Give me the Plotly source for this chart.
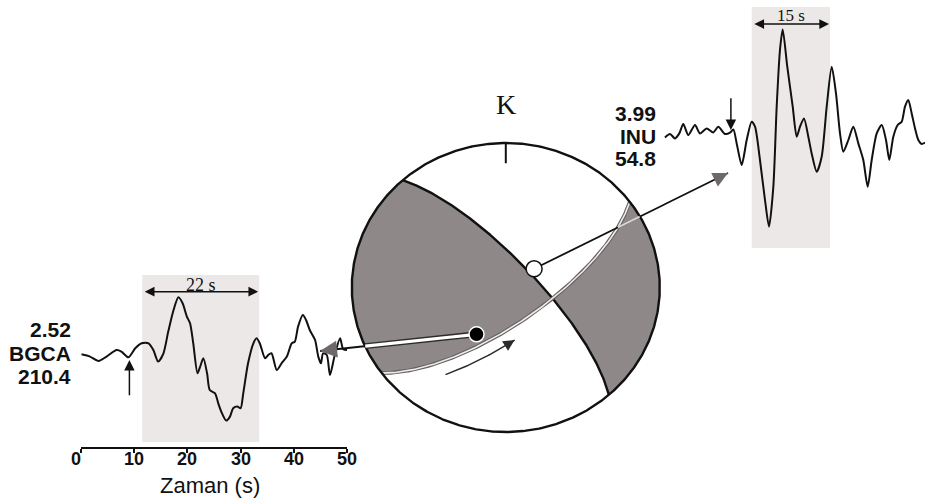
import numpy as np
import plotly.graph_objects as go

# ---------------- seismogram records ----------------
# BGCA record: time (s) and ground-motion amplitude (arbitrary units)
bgca_t = [0.1, 1.7, 3.3, 4.8, 6.7, 7.6, 8.9, 10.2, 11.4, 12.7,
          13.6, 14.5, 15.5, 16.4, 17.4, 18.3, 19.1, 19.9, 20.5, 21.1,
          21.9, 22.4, 23.0, 23.7, 24.2, 25.2, 25.8, 26.5, 27.3, 28.0,
          28.6, 29.4, 30.0, 30.5, 31.4, 32.4, 33.0, 33.6, 34.6, 35.2,
          35.8, 36.8, 37.7, 38.7, 39.6, 40.2, 40.8, 41.7, 42.3, 43.0,
          44.0, 44.6, 45.1, 45.5, 46.2, 46.8, 47.7, 48.7, 49.3, 50.2]
bgca_amp = [0, -2.3, -6.7, -2.3, 4.3, 2.7, -3, 6, 11, 11,
            4.3, -7.3, 1, 22.7, 44.3, 57, 51, 37.7, 31, 11,
            -19, -12.3, -4, -19, -35.7, -39, -49, -59, -66.3, -62.3,
            -54, -52.3, -54, -39, -9, 11, 16, 11, -4, -0.7,
            1, -15.7, -9, -2.3, 11, 12.7, 27.7, 39.3, 34.3, 24.3,
            14.3, -2.3, -9, 1, -0.7, -20.7, -0.7, 16, 5, 4.3]

# INU record
inu_t = [-0.33, 0.64, 1.59, 2.42, 3.18, 4.14, 5.42, 6.38, 7.66, 8.93,
         9.89, 11.17, 12.13, 12.77, 13.41, 14.37, 15.33, 16.28, 16.92, 17.87,
         18.83, 19.60, 20.43, 21.07, 21.7, 22.22, 23.1, 24.14, 24.9, 25.54,
         26.3, 27.13, 27.77, 28.74, 29.69, 30.65, 31.61, 32.43, 33.2, 33.84,
         34.8, 35.75, 36.71, 37.66, 38.5, 39.27, 40.23, 41.19, 42.01, 42.64,
         43.41, 44.25, 45.02, 45.65, 46.28, 46.93, 47.57, 48.2, 48.85, 49.49]
inu_amp = [-0.7, 2.7, -1.7, 3.3, 12.7, 1.7, 11.7, 3.3, 8.3, 4.3,
           10, 2.7, 4, 7.3, -6.7, -28.3, -3.3, 15, 10, -23.3,
           -63.3, -90, -50, 30, 86.7, 107.3, 70, 30, 0, 10,
           18.3, 0, -16.7, -35, -20, 30, 70, 43.3, 3.3, -15,
           -3.3, 10, -6.7, -23.3, -50, -23.3, 3.3, 11.7, -3.3, -23.3,
           0, 11.7, 15, 30, 36.7, 23.3, 8.3, -3.3, -7.3, -6]

# station metadata
station_names = ["BGCA", "INU"]
station_values = ["2.52", "3.99"]
station_azimuth = [210.4, 54.8]      # degrees
station_takeoff = [30.8, 18.3]       # degrees from vertical
station_onset = [9.1, 12.3]          # P onset pick (s)
window_start = [11.5, 16.3]          # modelled window start (s)
window_length = [22, 15]             # modelled window length (s)

time_ticks = [0, 10, 20, 30, 40, 50]

# focal mechanism (fault plane)
STRIKE, DIP, RAKE = 318.0, 75.0, 159.0

# ---------------- styling ----------------
W, H = 925, 499
INK = "#111111"
SHADE = "#8e8889"
WINDOW = "#ece8e8"
SANS = "Liberation Sans"
SERIF = "Liberation Serif"

# pixel frame of the focal sphere
BALL_CX, BALL_CY, BALL_RX, BALL_RY = 505.8, 287.5, 154.0, 144.5


def fault_vectors(strike, dip, rake):
    phi, delta, lam = np.radians([strike, dip, rake])
    n = np.array([-np.sin(delta) * np.sin(phi),
                  np.sin(delta) * np.cos(phi),
                  -np.cos(delta)])
    d = np.array([np.cos(lam) * np.cos(phi) + np.cos(delta) * np.sin(lam) * np.sin(phi),
                  np.cos(lam) * np.sin(phi) - np.cos(delta) * np.sin(lam) * np.cos(phi),
                  -np.sin(lam) * np.sin(delta)])
    return n, d


def project(v):
    """Lower-hemisphere equal-area projection of (N, E, Down) vectors."""
    v = np.atleast_2d(v).astype(float)
    v = v / np.linalg.norm(v, axis=1, keepdims=True)
    v[v[:, 2] < 0] *= -1
    theta = np.arccos(np.clip(v[:, 2], -1, 1))
    r = np.sqrt(2) * np.sin(theta / 2)
    az = np.arctan2(v[:, 1], v[:, 0])
    return r * np.sin(az), r * np.cos(az)


def from_ray(azimuth, takeoff):
    r = np.sqrt(2) * np.sin(np.radians(takeoff) / 2)
    a = np.radians(azimuth)
    return np.array([r * np.sin(a), r * np.cos(a)])


def great_circle(normal, k=400):
    normal = normal / np.linalg.norm(normal)
    h = np.cross(normal, [0, 0, 1.0])
    h /= np.linalg.norm(h)
    w = np.cross(normal, h)
    if w[2] < 0:
        w = -w
    a = np.linspace(0, np.pi, k)
    pts = np.outer(np.cos(a), h) + np.outer(np.sin(a), w)
    return project(pts)


n_vec, d_vec = fault_vectors(STRIKE, DIP, RAKE)


def compressional(x, y):
    x = np.asarray(x, float)
    y = np.asarray(y, float)
    r = np.hypot(x, y)
    th = 2 * np.arcsin(np.clip(r / np.sqrt(2), 0, 1))
    az = np.arctan2(x, y)
    u = np.stack([np.sin(th) * np.cos(az), np.sin(th) * np.sin(az), np.cos(th)], -1)
    amp = (u @ n_vec) * (u @ d_vec)
    return (r <= 1.0) & (amp > 0)


fig = go.Figure()

# ---------------- BGCA panel (with time axis) ----------------
fig.add_shape(type="rect", xref="x", yref="y",
              x0=window_start[0], x1=window_start[0] + window_length[0],
              y0=-87.7, y1=79.3, fillcolor=WINDOW, line_width=0, layer="below")
fig.add_trace(go.Scatter(x=bgca_t, y=bgca_amp, mode="lines",
                         line=dict(color=INK, width=2, shape="spline", smoothing=0.7),
                         xaxis="x", yaxis="y", hoverinfo="skip", showlegend=False))

# ---------------- INU panel ----------------
fig.add_shape(type="rect", xref="x2", yref="y2",
              x0=window_start[1], x1=window_start[1] + window_length[1],
              y0=-111.3, y1=129.7, fillcolor=WINDOW, line_width=0, layer="below")
fig.add_trace(go.Scatter(x=inu_t, y=inu_amp, mode="lines",
                         line=dict(color=INK, width=2, shape="spline", smoothing=0.7),
                         xaxis="x2", yaxis="y2", hoverinfo="skip", showlegend=False))

# ---------------- focal sphere ----------------
gx = np.linspace(-1, 1, 311)
gy = np.linspace(-1, 1, 291)
GX, GY = np.meshgrid(gx, gy)
mask = compressional(GX, GY)
z = [[1 if m else None for m in row] for row in mask]
fig.add_trace(go.Heatmap(x=gx, y=gy, z=z, zmin=0, zmax=1,
                         colorscale=[[0, SHADE], [1, SHADE]], showscale=False,
                         hoverinfo="skip", xaxis="x3", yaxis="y3"))

p1x, p1y = great_circle(n_vec)
p2x, p2y = great_circle(d_vec)

ball = dict(xaxis="x3", yaxis="y3", hoverinfo="skip", showlegend=False, mode="lines")
fig.add_trace(go.Scatter(x=p1x, y=p1y, line=dict(color=INK, width=2.4), **ball))
fig.add_trace(go.Scatter(x=p2x, y=p2y, line=dict(color="#676161", width=3.8), **ball))
fig.add_trace(go.Scatter(x=p2x, y=p2y, line=dict(color="#eeebeb", width=1.6), **ball))

ang = np.linspace(0, 2 * np.pi, 721)
fig.add_trace(go.Scatter(x=np.sin(ang), y=np.cos(ang), line=dict(color=INK, width=2.4), **ball))

# north tick
TICK_LEN = 0.14
fig.add_trace(go.Scatter(x=[0, 0], y=[1, 1 - TICK_LEN], line=dict(color=INK, width=2), **ball))

# rays from station points to their records
bgca_pt = from_ray(station_azimuth[0], station_takeoff[0])
inu_pt = from_ray(station_azimuth[1], station_takeoff[1])
BGCA_HEAD = np.array([-1.206, -0.439])
INU_HEAD = np.array([1.443, 0.792])


def ray(p, h, k=600):
    s = np.linspace(0, 1, k)
    x = p[0] + (h[0] - p[0]) * s
    y = p[1] + (h[1] - p[1]) * s
    m = compressional(x, y)
    xs = [xx if mm else None for xx, mm in zip(x, m)]
    ys = [yy if mm else None for yy, mm in zip(y, m)]
    return x, y, xs, ys


bx, by, bxs, bys = ray(bgca_pt, BGCA_HEAD)
fig.add_trace(go.Scatter(x=bx, y=by, line=dict(color=INK, width=2), **ball))
fig.add_trace(go.Scatter(x=bxs, y=bys, line=dict(color="#2f2b2b", width=6), **ball))
fig.add_trace(go.Scatter(x=bxs, y=bys, line=dict(color="#ffffff", width=3.2), **ball))

ix, iy, ixs, iys = ray(inu_pt, INU_HEAD)
fig.add_trace(go.Scatter(x=ix, y=iy, line=dict(color=INK, width=1.8), **ball))
fig.add_trace(go.Scatter(x=ixs, y=iys, line=dict(color="#dcd8d8", width=2), **ball))

# slip sense arrow running beside the fault plane
SLIP_SHIFT = -0.1
sel = (p2x > -0.395) & (p2x < 0.06)
order = np.argsort(p2x[sel])
sx = p2x[sel][order]
sy = p2y[sel][order] + SLIP_SHIFT
fig.add_trace(go.Scatter(x=sx, y=sy, line=dict(color="#2a2a2a", width=1.5), **ball))

# station symbols
fig.add_trace(go.Scatter(x=[bgca_pt[0]], y=[bgca_pt[1]], mode="markers",
                         marker=dict(size=15, color="#000000", line=dict(color="#ffffff", width=1.5)),
                         xaxis="x3", yaxis="y3", hoverinfo="skip", showlegend=False))
fig.add_trace(go.Scatter(x=[inu_pt[0]], y=[inu_pt[1]], mode="markers",
                         marker=dict(size=16, color="#ffffff", line=dict(color=INK, width=1.5)),
                         xaxis="x3", yaxis="y3", hoverinfo="skip", showlegend=False))

annotations = []


def head(x, y, ax, ay, ref, color, size, width):
    annotations.append(dict(x=x, y=y, ax=ax, ay=ay, xref="x" + ref, yref="y" + ref,
                            axref="x" + ref, ayref="y" + ref, text="", showarrow=True,
                            arrowhead=2, arrowsize=size, arrowwidth=width,
                            arrowcolor=color, standoff=0))


# ray arrowheads
bdir = (BGCA_HEAD - bgca_pt)
head(BGCA_HEAD[0], BGCA_HEAD[1], BGCA_HEAD[0] - 0.05 * bdir[0], BGCA_HEAD[1] - 0.05 * bdir[1],
     "3", "#6e6868", 1.7, 2)
idir = (INU_HEAD - inu_pt)
head(INU_HEAD[0], INU_HEAD[1], INU_HEAD[0] - 0.05 * idir[0], INU_HEAD[1] - 0.05 * idir[1],
     "3", "#6e6868", 1.5, 2)
head(sx[-1], sy[-1], sx[-8], sy[-8], "3", "#2a2a2a", 1.5, 1.5)

# onset picks
head(station_onset[0], -5.7, station_onset[0], -42.4, "", INK, 1.4, 1.5)
head(station_onset[1], 6.7, station_onset[1], 40, "2", INK, 1.4, 1.5)

# window length arrows
for ref, i, yv, ty in (("", 0, 62.6, 69.3), ("2", 1, 112.7, 121.7)):
    a0 = window_start[i] + 0.2
    a1 = window_start[i] + window_length[i] - 0.2
    annotations.append(dict(x=a1, y=yv, ax=a0, ay=yv, xref="x" + ref, yref="y" + ref,
                            axref="x" + ref, ayref="y" + ref, text="", showarrow=True,
                            arrowhead=2, startarrowhead=2, arrowside="end+start",
                            arrowsize=1.3, startarrowsize=1.3, arrowwidth=1.5,
                            arrowcolor=INK, standoff=0, startstandoff=0))
    annotations.append(dict(x=window_start[i] + window_length[i] / 2, y=ty,
                            xref="x" + ref, yref="y" + ref, showarrow=False,
                            text=f"{window_length[i]} s",
                            font=dict(family=SERIF, size=18 if i == 0 else 17, color=INK)))

# station labels
label_font = dict(family=SANS, size=21, color=INK, weight="bold")
for right_px, ys_px, i in ((73, (329.3, 353.3, 376.7), 0), (658, (113.3, 136.7, 158.3), 1)):
    texts = [station_values[i], station_names[i], f"{station_azimuth[i]:.1f}"]
    for t, ypx in zip(texts, ys_px):
        annotations.append(dict(x=right_px / W, y=1 - ypx / H, xref="paper", yref="paper",
                                xanchor="right", yanchor="middle", showarrow=False,
                                text=t, font=label_font))

# time axis tick labels, set close under the axis line
for tv in time_ticks:
    annotations.append(dict(x=tv, y=1 - 459 / H, xref="x", yref="paper",
                            xanchor="center", yanchor="middle", showarrow=False,
                            borderpad=0, xshift=-5 if tv == 0 else 0, text=str(tv),
                            font=dict(family=SANS, size=18, color=INK, weight="bold")))

# time axis title
annotations.append(dict(x=210 / W, y=1 - 485 / H, xref="paper", yref="paper",
                        xanchor="center", yanchor="middle", showarrow=False, borderpad=0,
                        text="Zaman (s)", font=dict(family=SANS, size=22, color=INK)))

# north label
annotations.append(dict(x=0, y=(BALL_CY - 104) / BALL_RY, xref="x3", yref="y3",
                        showarrow=False, text="K",
                        font=dict(family=SERIF, size=28, color=INK)))

fig.update_layout(
    width=W, height=H, margin=dict(l=0, r=0, t=0, b=0), autosize=False,
    paper_bgcolor="#ffffff", plot_bgcolor="rgba(0,0,0,0)",
    showlegend=False, annotations=annotations,
    xaxis=dict(domain=[81 / W, 347 / W], range=[0, 50], anchor="y",
               showline=True, linecolor=INK, linewidth=1.8, ticks="outside",
               ticklen=4, tickwidth=1.8, tickcolor=INK, tickvals=time_ticks,
               showticklabels=False, showgrid=False, zeroline=False),
    yaxis=dict(domain=[52 / H, 234 / H], range=[-92.7, 89.3], anchor="x", visible=False),
    xaxis2=dict(domain=[660 / W, 1], range=[-1.28, 49.48], anchor="y2", visible=False),
    yaxis2=dict(domain=[239 / H, 1], range=[-123.3, 136.7], anchor="x2", visible=False),
    xaxis3=dict(domain=[0, 1], range=[-BALL_CX / BALL_RX, (W - BALL_CX) / BALL_RX],
                anchor="y3", visible=False),
    yaxis3=dict(domain=[0, 1], range=[(BALL_CY - H) / BALL_RY, BALL_CY / BALL_RY],
                anchor="x3", visible=False),
)

fig.write_html("out.html")
